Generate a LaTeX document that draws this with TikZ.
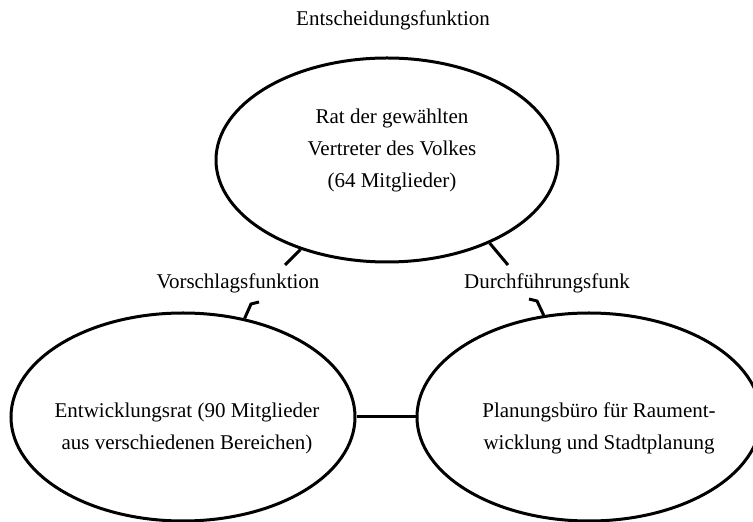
\documentclass[tikz,border=0pt]{standalone}
\usepackage{fontspec}
\setmainfont{Liberation Serif}
\usetikzlibrary{shapes.geometric}

\begin{document}
\begin{tikzpicture}[x=1pt,y=1pt,
		organ/.style={draw, ellipse, line width=3pt, inner sep=0pt},
		organtext/.style={inner sep=0pt, align=center, font=\fontsize{21}{32}\selectfont},
		role/.style={inner sep=0pt, font=\fontsize{21}{32}\selectfont},
		hook/.style={line width=3pt}]
			\def\W{753};
			\def\H{522};
			\def\rx{172};
			\def\ry{104};

			\useasboundingbox (0,0) rectangle (\W,\H);

			\begin{scope}
				\clip (0,0) rectangle (\W,\H);
				\node [organ, minimum width=342, minimum height=204] (rat) at (387,362) {};
				\node [organ, minimum width=2*\rx, minimum height=2*\ry] (entwicklung) at (183,105) {};
				\node [organ, minimum width=2*\rx, minimum height=2*\ry] (planung) at (589,105) {};
			\end{scope}

			\node [organtext] (ratText) at (392,372) {Rat der gewählten\\Vertreter des Volkes\\(64 Mitglieder)};
			\node [organtext] (entwicklungText) at (187,94) {Entwicklungsrat (90 Mitglieder\\aus verschiedenen Bereichen)};
			\node [organtext] (planungText) at (599,94) {Planungsbüro für Raument-\\wicklung und Stadtplanung};

			\node [role] (entscheidung) at (393,502) {Entscheidungsfunktion};
			\node [role] (vorschlag) at (238,239) {Vorschlagsfunktion};
			\node [role] (durchfuehrung) at (547,239) {Durchführungsfunk};

			\draw [line width=3pt] (entwicklung.east) -- (planung.west);

			\begin{scope}[hook]
				\coordinate (hookA) at (285,257);
				\coordinate (hookB) at (508,257);
				\coordinate (hookC) at (251,218);
				\coordinate (hookCend) at (259,220);
				\coordinate (hookD) at (537,221);
				\coordinate (hookDend) at (529,223);

				\draw (rat.-134) -- (hookA);
				\draw (rat.-39) -- (hookB);
				\draw (entwicklung.58) -- (hookC) -- (hookCend);
				\draw (planung.114) -- (hookD) -- (hookDend);
			\end{scope}
		\end{tikzpicture}
\end{document}
